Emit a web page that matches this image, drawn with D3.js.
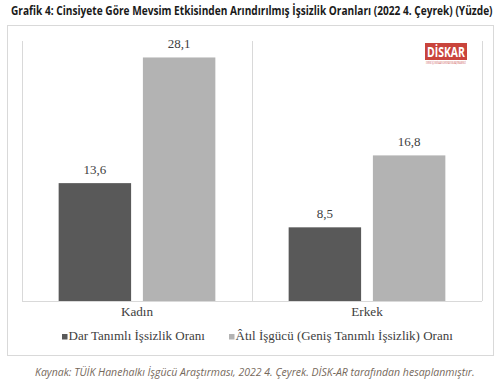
<!DOCTYPE html>
<html>
<head>
<meta charset="utf-8">
<script src="https://cdn.jsdelivr.net/npm/d3@7"></script>
<style>
  body { margin: 0; background: #fff; }
  svg { display: block; }
</style>
</head>
<body>
<svg id="chart"></svg>
<script>
let categories = ['Kadın', 'Erkek']
let series = ['Dar Tanımlı İşsizlik Oranı', 'Âtıl İşgücü (Geniş Tanımlı İşsizlik) Oranı']
let darValues = [13.6, 8.5]
let atilValues = [28.1, 16.8]
let titleText = 'Grafik 4: Cinsiyete Göre Mevsim Etkisinden Arındırılmış İşsizlik Oranları (2022 4. Çeyrek) (Yüzde)'
let sourceText = 'Kaynak: TÜİK Hanehalkı İşgücü Araştırması, 2022 4. Çeyrek. DİSK-AR tarafından hesaplanmıştır.'

let width = 500
let height = 384
let colors = ['#595959', '#b3b3b3']
let serif = '"Liberation Serif", "DejaVu Serif", serif'
let sans = '"Open Sans", "Noto Sans", sans-serif'

let svg = d3.select('#chart').attr('width', width).attr('height', height)

let fmt = d3.formatLocale({ decimal: ',', thousands: '.', grouping: [3], currency: ['', ''] }).format('.1f')

// squeeze a text horizontally so that it fits a given width
let fitText = (sel, x, w) => {
    let nat = sel.node().getComputedTextLength()
    let k = Math.min(1, w / nat)
    sel.attr('x', 0).attr('transform', 'translate(' + x + ',' + sel.attr('y') + ') scale(' + k + ',1)').attr('y', 0)
}

// title
let title = svg.append('text')
   .attr('y', 15)
   .attr('font-family', sans).attr('font-weight', 'bold')
   .attr('font-size', 11.5).attr('fill', '#1a1a1a')
   .text(titleText)
fitText(title, 11, 482)

// chart frame
svg.append('rect')
   .attr('x', 7.5).attr('y', 25.5).attr('width', 486).attr('height', 330)
   .attr('fill', '#fff').attr('stroke', '#d9d9d9').attr('stroke-width', 1)

let x0 = d3.scaleBand().domain(categories).range([22, 482])
let x1 = d3.scaleBand().domain(series).range([0, x0.bandwidth()])
           .paddingInner(0.14).paddingOuter(0.435)
let y = d3.scaleLinear().domain([0, 30]).range([301, 41])

// category separators (gridlines)
let edges = [x0(categories[0]), x0(categories[1]), x0(categories[1]) + x0.bandwidth()]
svg.selectAll('.sep').data(edges).enter().append('line')
   .attr('x1', d => Math.round(d) + 0.5).attr('x2', d => Math.round(d) + 0.5)
   .attr('y1', y(30)).attr('y2', y(0))
   .attr('stroke', '#d9d9d9')

let rows = []
categories.forEach((c, i) => {
    rows.push({ cat: c, s: series[0], v: darValues[i], k: 0 })
    rows.push({ cat: c, s: series[1], v: atilValues[i], k: 1 })
})

svg.selectAll('.bar').data(rows).enter().append('rect')
   .attr('class', 'bar')
   .attr('x', d => x0(d.cat) + x1(d.s))
   .attr('width', x1.bandwidth())
   .attr('y', d => y(d.v))
   .attr('height', d => y(0) - y(d.v))
   .attr('fill', d => colors[d.k])

svg.selectAll('.val').data(rows).enter().append('text')
   .attr('x', d => x0(d.cat) + x1(d.s) + x1.bandwidth() / 2)
   .attr('y', d => y(d.v) - 9)
   .attr('text-anchor', 'middle')
   .attr('font-family', serif).attr('font-size', 13).attr('fill', '#404040')
   .text(d => fmt(d.v))

// baseline
svg.append('line')
   .attr('x1', 22).attr('x2', 482).attr('y1', y(0) + 0.5).attr('y2', y(0) + 0.5)
   .attr('stroke', '#d9d9d9')

// x axis labels
let xAxis = d3.axisBottom(x0).tickSize(0).tickPadding(6)
let gx = svg.append('g').attr('transform', 'translate(0,' + y(0) + ')').call(xAxis)
gx.select('.domain').remove()
gx.selectAll('text')
  .attr('font-family', serif).attr('font-size', 13.2).attr('fill', '#404040')

// legend
let legendX = [62, 229]
let leg = svg.selectAll('.leg').data(series).enter().append('g')
   .attr('transform', (d, i) => 'translate(' + legendX[i] + ',340)')
leg.append('rect').attr('x', 0).attr('y', -6).attr('width', 5.5).attr('height', 5.5)
   .attr('fill', (d, i) => colors[i])
leg.append('text').attr('x', 6.5).attr('y', 0)
   .attr('font-family', serif).attr('font-size', 13).attr('fill', '#404040')
   .text(d => d)

// DİSK-AR logo
let logo = svg.append('g').attr('transform', 'translate(425,43)')
logo.append('rect').attr('width', 42).attr('height', 17).attr('fill', '#c9443c')
let logoText = logo.append('text').attr('y', 14)
    .attr('font-family', sans).attr('font-weight', 'bold').attr('font-size', 14)
    .attr('fill', '#fff')
    .text('DİSKAR')
fitText(logoText, 2, 38)
let logoSub = logo.append('text').attr('y', 21)
    .attr('font-family', sans).attr('font-size', 3)
    .attr('fill', '#c9443c')
    .text('DEVRİMCİ İŞÇİ SENDİKALARI KONFEDERASYONU ARAŞTIRMA MERKEZİ')
fitText(logoSub, 1, 40)

// source
let source = svg.append('text')
   .attr('y', 376)
   .attr('font-family', sans).attr('font-style', 'italic')
   .attr('font-size', 10.6).attr('fill', '#76695c')
   .text(sourceText)
fitText(source, 35, 440)
</script>
</body>
</html>
